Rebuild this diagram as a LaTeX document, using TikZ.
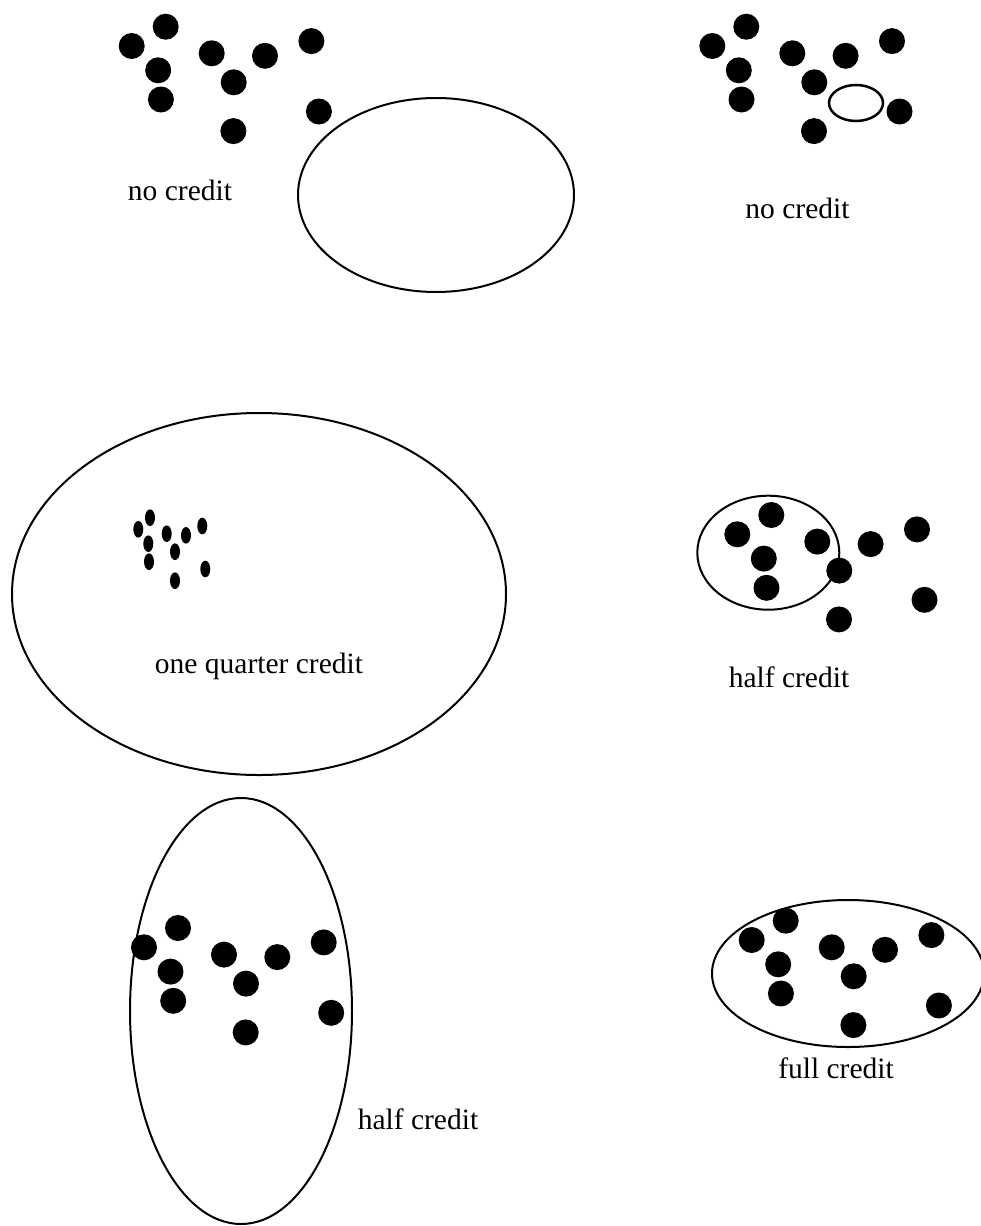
\documentclass[tikz,border=0pt]{standalone}
\usepackage{fontspec}
\setmainfont{Liberation Serif}
\begin{document}
\begin{tikzpicture}[x=1pt,y=-1pt,
  outline/.style={draw=black,line width=2pt},
  label/.style={anchor=base,inner sep=0pt,font=\fontsize{29.5}{35}\selectfont},
  dotgroup/.pic={
    \foreach \dx/\dy in {0/0,34/-19.3,26.5/24.3,29.2/53.5,80/7.3,102/36.3,
                         101.7/85.1,133.3/9.8,179.7/-4.9,187.2/65.5}
      \fill[black] (\dx,\dy) circle (13pt);
  }]
\useasboundingbox (0,0) rectangle (981,1226);
\clip (0,0) rectangle (981,1226);

% top left: no credit
\pic at (131.7,46) {dotgroup};
\draw[outline] (436,195) ellipse [x radius=138pt, y radius=97pt];
\node[label] (l1) at (180,200.7) {no credit};

% top right: no credit
\pic at (712.3,46) {dotgroup};
\draw[outline,line width=2.5pt] (856,103) ellipse [x radius=27pt, y radius=18pt];
\node[label] (l2) at (797.5,218.3) {no credit};

% middle left: one quarter credit
\draw[outline] (259,594) ellipse [x radius=247pt, y radius=181pt];
\foreach \px/\py in {138.3/529.3,150/517.7,148.3/543.7,149/561.7,166.7/533.7,
                     175/551.7,175/580.7,186/535.3,202.3/526,205.3/569}
  \fill[black] (\px,\py) ellipse [x radius=5pt, y radius=8.3pt];
\node[label] (l3) at (259,673) {one quarter credit};

% middle right: half credit
\draw[outline] (768.3,552.7) ellipse [x radius=71pt, y radius=57pt];
\pic at (737.3,534.3) {dotgroup};
\node[label] (l4) at (789,687.3) {half credit};

% bottom left: half credit
\draw[outline] (241,1011) ellipse [x radius=111pt, y radius=213pt];
\pic at (144,947.3) {dotgroup};
\node[label] (l5) at (418,1129) {half credit};

% bottom right: full credit
\draw[outline] (848,973.5) ellipse [x radius=136pt, y radius=73.5pt];
\pic at (751.7,940) {dotgroup};
\node[label] (l6) at (836,1078) {full credit};
\end{tikzpicture}
\end{document}
